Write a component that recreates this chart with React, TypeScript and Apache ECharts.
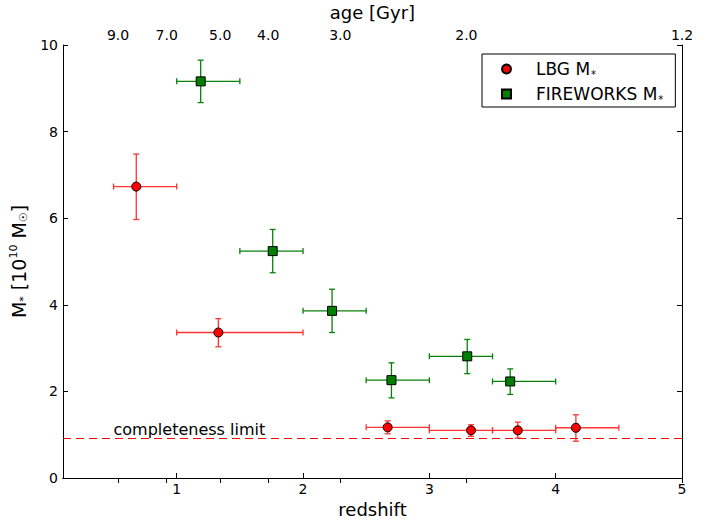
import React, { useEffect, useRef } from "react";
import * as echarts from "echarts";

// ---- data ----
const lbgRedshift = [0.68, 1.33, 2.67, 3.33, 3.70, 4.16];
const lbgMass = [6.73, 3.36, 1.17, 1.10, 1.10, 1.16];
const lbgZLow = [0.5, 1.0, 2.5, 3.0, 3.5, 4.0];
const lbgZHigh = [1.0, 2.0, 3.0, 3.5, 4.0, 4.5];
const lbgMLow = [5.97, 3.03, 1.02, 0.96, 0.92, 0.85];
const lbgMHigh = [7.48, 3.68, 1.32, 1.23, 1.29, 1.46];

const fwRedshift = [1.19, 1.76, 2.23, 2.70, 3.30, 3.64];
const fwMass = [9.16, 5.24, 3.86, 2.26, 2.81, 2.23];
const fwZLow = [1.0, 1.5, 2.0, 2.5, 3.0, 3.5];
const fwZHigh = [1.5, 2.0, 2.5, 3.0, 3.5, 4.0];
const fwMLow = [8.67, 4.74, 3.36, 1.85, 2.41, 1.93];
const fwMHigh = [9.65, 5.74, 4.36, 2.66, 3.20, 2.52];

const redshiftTicks = [1, 2, 3, 4, 5];
const massTicks = [0, 2, 4, 6, 8, 10];
const ageLabels = ["9.0", "7.0", "5.0", "4.0", "3.0", "2.0", "1.2"];
const ageRedshifts = [0.536, 0.921, 1.344, 1.724, 2.295, 3.293, 5.0];

const completenessLimit = 0.92;
const completenessLabel = "completeness limit";
const completenessLabelAt = [0.5, 1.13];

const FONT = "DejaVu Sans";

function buildErr(z: number[], m: number[], zl: number[], zh: number[], ml: number[], mh: number[]) {
  return z.map((v, i) => [v, m[i], zl[i], zh[i], ml[i], mh[i]]);
}

function errRender(color: string) {
  return (params: any, api: any) => {
    const x = api.value(0), y = api.value(1);
    const xl = api.value(2), xh = api.value(3);
    const yl = api.value(4), yh = api.value(5);
    const pL = api.coord([xl, y]);
    const pR = api.coord([xh, y]);
    const pT = api.coord([x, yh]);
    const pB = api.coord([x, yl]);
    const cap = 3;
    const style = { stroke: color, lineWidth: 1.3, fill: "none" };
    const line = (x1: number, y1: number, x2: number, y2: number) => ({
      type: "line",
      shape: { x1, y1, x2, y2 },
      style,
    });
    return {
      type: "group",
      children: [
        line(pL[0], pL[1], pR[0], pR[1]),
        line(pT[0], pT[1], pB[0], pB[1]),
        line(pL[0], pL[1] - cap, pL[0], pL[1] + cap),
        line(pR[0], pR[1] - cap, pR[0], pR[1] + cap),
        line(pT[0] - cap, pT[1], pT[0] + cap, pT[1]),
        line(pB[0] - cap, pB[1], pB[0] + cap, pB[1]),
      ],
    };
  };
}

export default function App() {
  const ref = useRef<HTMLDivElement>(null);
  useEffect(() => {
    document.body.style.margin = "0";
    const chart = echarts.init(ref.current!, null, { renderer: "svg" });
    const axisLine = { show: true, lineStyle: { color: "#000", width: 1 } };
    const tick = { show: true, inside: true, length: 5, lineStyle: { color: "#000" } };
    const label = { color: "#000", fontFamily: FONT, fontSize: 14 };
    chart.setOption({
      animation: false,
      backgroundColor: "#fff",
      textStyle: { fontFamily: FONT },
      grid: { left: 63, right: 35, top: 45, bottom: 42, containLabel: false, outerBoundsMode: "none" },
      legend: {
        orient: "vertical",
        left: 482,
        top: 54,
        padding: [5, 12, 3, 19],
        itemGap: 5,
        itemWidth: 9,
        itemHeight: 9,
        borderColor: "#000",
        borderWidth: 1,
        borderRadius: 0,
        backgroundColor: "#fff",
        data: [
          { name: "LBG", icon: "circle" },
          { name: "FIREWORKS", icon: "rect" },
        ],
        formatter: (name: string) => `{n|${name} M}{s|*}`,
        textStyle: {
          color: "#000",
          fontFamily: FONT,
          rich: {
            n: { fontSize: 17, fontFamily: FONT, color: "#000", padding: [0, 0, 0, 20], lineHeight: 20 },
            s: { fontSize: 10, fontFamily: FONT, color: "#000", padding: [10, 0, 0, 1], lineHeight: 20 },
          },
        },
      },
      xAxis: [
        {
          type: "value",
          position: "bottom",
          min: 0.1,
          max: 5,
          name: "redshift",
          nameLocation: "middle",
          nameGap: 18,
          nameTextStyle: { fontSize: 18, color: "#000", fontFamily: FONT },
          axisLine,
          axisTick: { ...tick, customValues: redshiftTicks },
          axisLabel: { ...label, margin: 4, customValues: redshiftTicks },
          splitLine: { show: false },
        },
        {
          type: "value",
          position: "top",
          min: 0.1,
          max: 5,
          name: "age [Gyr]",
          nameLocation: "middle",
          nameGap: 24,
          nameTextStyle: { fontSize: 18, color: "#000", fontFamily: FONT },
          axisLine,
          axisTick: { ...tick, customValues: ageRedshifts },
          axisLabel: {
            ...label,
            margin: 3,
            customValues: ageRedshifts,
            formatter: (v: number) => {
              const i = ageRedshifts.findIndex((a) => Math.abs(a - v) < 1e-6);
              return i >= 0 ? ageLabels[i] : "";
            },
          },
          splitLine: { show: false },
        },
      ],
      yAxis: [
        {
          type: "value",
          position: "left",
          min: 0,
          max: 10,
          interval: 2,
          name: "{a|M}{s|*}{a| [10}{p|10}{a| M}{s|☉}{a|]}",
          nameLocation: "middle",
          nameGap: 25,
          nameTextStyle: {
            color: "#000",
            fontFamily: FONT,
            rich: {
              a: { fontSize: 19, fontFamily: FONT, color: "#000", lineHeight: 24 },
              s: { fontSize: 11, fontFamily: FONT, color: "#000", padding: [10, 0, 0, 0], lineHeight: 24 },
              p: { fontSize: 11, fontFamily: FONT, color: "#000", padding: [0, 0, 10, 0], lineHeight: 24 },
            },
          },
          axisLine,
          axisTick: tick,
          axisLabel: { ...label, margin: 5, customValues: massTicks },
          splitLine: { show: false },
        },
        {
          type: "value",
          position: "right",
          min: 0,
          max: 10,
          interval: 2,
          axisLine,
          axisTick: tick,
          axisLabel: { show: false },
          splitLine: { show: false },
        },
      ],
      series: [
        {
          name: "LBG err",
          type: "custom",
          renderItem: errRender("#ff3333"),
          data: buildErr(lbgRedshift, lbgMass, lbgZLow, lbgZHigh, lbgMLow, lbgMHigh),
          encode: { x: 0, y: 1 },
          z: 2,
          silent: true,
        },
        {
          name: "FIREWORKS err",
          type: "custom",
          renderItem: errRender("#0a800a"),
          data: buildErr(fwRedshift, fwMass, fwZLow, fwZHigh, fwMLow, fwMHigh),
          encode: { x: 0, y: 1 },
          z: 2,
          silent: true,
        },
        {
          name: "LBG",
          type: "scatter",
          symbol: "circle",
          symbolSize: 9,
          itemStyle: { color: "#ff0000", borderColor: "#000", borderWidth: 1, opacity: 1 },
          data: lbgRedshift.map((z, i) => [z, lbgMass[i]]),
          z: 5,
          markLine: {
            silent: true,
            symbol: "none",
            label: { show: false },
            lineStyle: { color: "#ff0000", type: [8, 5], width: 1.2 },
            data: [{ yAxis: completenessLimit }],
          },
          markPoint: {
            silent: true,
            symbol: "circle",
            symbolSize: 0,
            label: {
              show: true,
              position: "right",
              distance: 0,
              formatter: completenessLabel,
              color: "#000",
              fontSize: 16,
              fontFamily: FONT,
            },
            data: [{ coord: completenessLabelAt }],
          },
        },
        {
          name: "FIREWORKS",
          type: "scatter",
          symbol: "rect",
          symbolSize: 9,
          itemStyle: { color: "#008000", borderColor: "#000", borderWidth: 1, opacity: 1 },
          data: fwRedshift.map((z, i) => [z, fwMass[i]]),
          z: 5,
        },
      ],
    });
    return () => chart.dispose();
  }, []);
  return <div ref={ref} style={{ width: 717, height: 520 }} />;
}
